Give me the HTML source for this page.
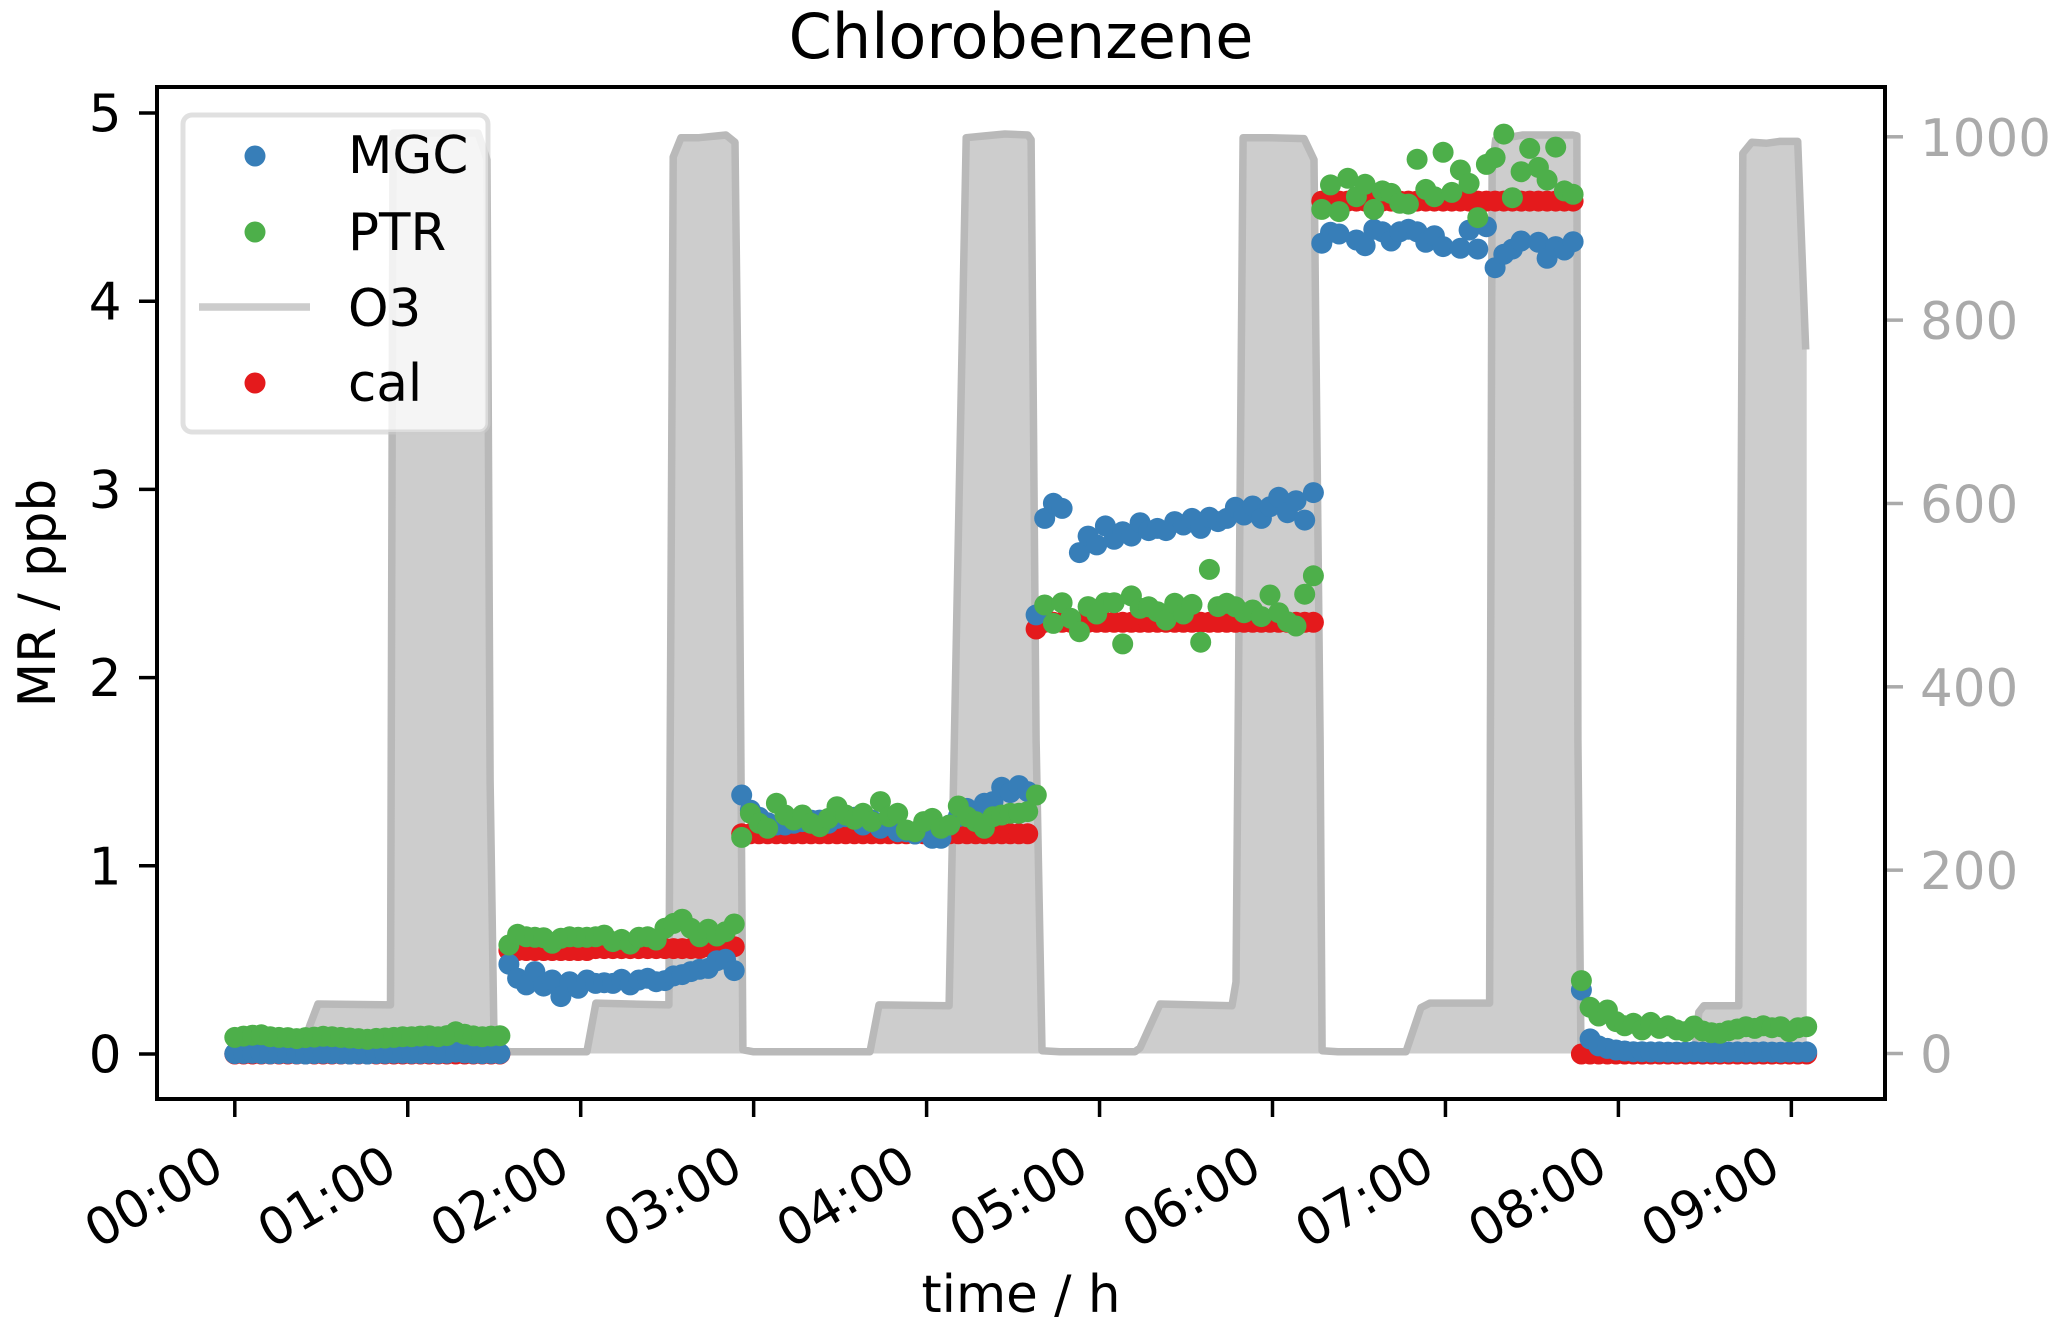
<!DOCTYPE html>
<html lang="en">
<head>
<meta charset="utf-8">
<title>Chlorobenzene</title>
<style>
html,body{margin:0;padding:0;background:#fff;width:2067px;height:1329px;overflow:hidden}
svg{display:block}
text{font-family:"DejaVu Sans",sans-serif}
</style>
</head>
<body>
<svg id="chart" xmlns="http://www.w3.org/2000/svg" width="2067" height="1329" viewBox="0 0 2067 1329">
  <rect x="0" y="0" width="2067" height="1329" fill="#fff"/>
  <g id="o3-layer"></g>
  <g id="cal-layer"></g>
  <g id="mgc-layer"></g>
  <g id="ptr-layer"></g>
  <g id="x-axis"></g>
  <g id="y-axis-left"></g>
  <g id="y-axis-right"></g>
  <rect x="157" y="87" width="1728" height="1012" fill="none" stroke="#000" stroke-width="4"/>
  <text x="1021" y="58" font-size="62" text-anchor="middle" fill="#000">Chlorobenzene</text>
  <text x="1021" y="1312" font-size="51.5" text-anchor="middle" fill="#000">time / h</text>
  <text transform="translate(55,593) rotate(-90)" font-size="51.5" text-anchor="middle" fill="#000">MR / ppb</text>
  <g>
    <rect x="183" y="115" width="305" height="317" rx="9" ry="9" fill="#fff" fill-opacity="0.8" stroke="#ccc" stroke-opacity="0.6" stroke-width="5"/>
    <g>
      <circle cx="255" cy="156" r="10.5" fill="#377eb8"/>
      <text x="348" y="173" font-size="51.5" fill="#000">MGC</text>
    </g>
    <g>
      <circle cx="255" cy="232" r="10.5" fill="#4daf4a"/>
      <text x="348" y="250" font-size="51.5" fill="#000">PTR</text>
    </g>
    <g>
      <line x1="199" y1="307" x2="310" y2="307" stroke="#ccc" stroke-width="7.5"/>
      <text x="348" y="326" font-size="51.5" fill="#000">O3</text>
    </g>
    <g>
      <circle cx="255" cy="383" r="10.5" fill="#e41a1c"/>
      <text x="348" y="401" font-size="51.5" fill="#000">cal</text>
    </g>
  </g>
</svg>
<script>
// ---- chart data ----
const xTickHours = [0,1,2,3,4,5,6,7,8,9];
const xTickLabels = ["00:00","01:00","02:00","03:00","04:00","05:00","06:00","07:00","08:00","09:00"];
const leftTicks = [0,1,2,3,4,5];
const rightTicks = [0,200,400,600,800,1000];

const segmentStarts = [0,1.585,2.931,4.633,6.285,7.786];
const segmentSteps = [0.0511,0.0501,0.0501,0.0501,0.0501,0.0501];

const mgcSeg1 = [.002,.003,.004,.002,.001,.002,.003,.001,0,.002,.003,.002,.001,0,.001,0,.002,.003,.004,.004,.003,.003,.004,.003,.004,.01,.006,.003,.002,.003,.002];
const mgcSeg2 = [.477,.402,.367,.438,.361,.393,.305,.384,.349,.393,.375,.379,.375,.397,.367,.393,.402,.384,.39,.415,.422,.438,.45,.455,.496,.503,.443];
const mgcSeg3 = [1.376,1.296,1.258,1.229,1.217,1.217,1.226,1.235,1.243,1.243,1.226,1.252,1.261,1.258,1.217,1.243,1.199,1.226,1.181,1.181,1.169,1.199,1.146,1.146,1.217,1.261,1.305,1.288,1.332,1.341,1.417,1.389,1.426,1.394];
const mgcSeg4 = [2.333,2.846,2.926,2.899,null,2.664,2.752,2.705,2.806,2.735,2.775,2.752,2.823,2.781,2.793,2.781,2.829,2.811,2.846,2.793,2.852,2.829,2.846,2.905,2.864,2.912,2.846,2.908,2.958,2.876,2.94,2.837,2.983];
const mgcSeg5 = [4.308,4.366,4.357,null,4.325,4.295,4.382,4.369,4.32,4.369,4.382,4.369,4.313,4.348,4.29,null,4.281,4.378,4.277,4.396,4.178,4.249,4.277,4.32,null,4.313,4.228,4.29,4.272,4.316];
const mgcSeg6 = [.34,.08,.043,.03,.021,.016,.012,.012,.011,.011,.01,.01,.01,.012,.01,.01,.009,.01,.011,.01,.01,.011,.01,.009,.01,.01,.011];

const ptrSeg1 = [.088,.095,.1,.102,.092,.088,.087,.082,.087,.09,.094,.092,.088,.085,.082,.078,.083,.085,.088,.092,.092,.095,.097,.092,.098,.118,.105,.096,.092,.095,.097];
const ptrSeg2 = [.579,.636,.623,.62,.618,.588,.615,.623,.62,.62,.623,.632,.597,.609,.584,.62,.623,.606,.668,.694,.716,.668,.623,.663,.627,.65,.691];
const ptrSeg3 = [1.151,1.279,1.226,1.199,1.332,1.27,1.243,1.27,1.226,1.208,1.252,1.314,1.27,1.247,1.279,1.235,1.341,1.261,1.279,1.19,1.181,1.235,1.252,1.199,1.217,1.318,1.261,1.235,1.199,1.261,1.27,1.279,1.279,1.288,1.376];
const ptrSeg4 = [null,2.386,2.288,2.398,2.315,2.244,2.377,2.338,2.398,2.398,2.179,2.434,2.368,2.376,2.35,2.306,2.395,2.338,2.389,2.188,2.575,2.377,2.395,2.376,2.345,2.359,2.324,2.439,2.345,2.297,2.274,2.443,2.541];
const ptrSeg5 = [4.488,4.618,4.476,4.653,4.555,4.621,4.488,4.586,4.573,4.52,4.516,4.754,4.594,4.555,4.791,4.578,4.697,4.626,4.444,4.727,4.763,4.888,4.55,4.688,4.812,4.711,4.644,4.819,4.586,4.568];
const ptrSeg6 = [.39,.248,.202,.234,.172,.15,.163,.128,.168,.136,.15,.128,.119,.149,.122,.113,.11,.124,.133,.145,.136,.15,.14,.145,.119,.14,.145];

const calSeg1 = [0,0,0,0,0,0,0,0,0,0,0,0,0,0,0,0,0,0,0,0,0,0,0,0,0,0,0,0,0,0,0];
const calSeg2 = [.55,.55,.55,.55,.55,.55,.55,.55,.55,.55,.56,.56,.56,.56,.56,.56,.56,.56,.56,.56,.56,.56,.56,.57,.57,.57,.57];
const calSeg3 = [1.17,1.17,1.17,1.17,1.17,1.17,1.17,1.17,1.17,1.17,1.17,1.17,1.17,1.17,1.17,1.17,1.17,1.17,1.17,1.17,1.17,1.17,1.17,1.17,1.17,1.17,1.17,1.17,1.17,1.17,1.17,1.17,1.17,1.17];
const calSeg4 = [2.258,2.294,2.294,2.294,2.294,2.294,2.294,2.294,2.294,2.294,2.294,2.294,2.294,2.294,2.294,2.294,2.294,2.294,2.294,2.294,2.294,2.294,2.294,2.294,2.294,2.294,2.294,2.294,2.294,2.294,2.294,2.294,2.294];
const calSeg5 = [4.532,4.532,4.532,4.532,4.532,4.532,4.532,4.532,4.532,4.532,4.532,4.532,4.532,4.532,4.532,4.532,4.532,4.532,4.532,4.532,4.532,4.532,4.532,4.532,4.532,4.532,4.532,4.532,4.532,4.532];
const calSeg6 = [0,0,0,0,0,0,0,0,0,0,0,0,0,0,0,0,0,0,0,0,0,0,0,0,0,0,0];

const mgcSegments = [mgcSeg1,mgcSeg2,mgcSeg3,mgcSeg4,mgcSeg5,mgcSeg6];
const ptrSegments = [ptrSeg1,ptrSeg2,ptrSeg3,ptrSeg4,ptrSeg5,ptrSeg6];
const calSegments = [calSeg1,calSeg2,calSeg3,calSeg4,calSeg5,calSeg6];

const o3Hours = [0,.377,.435,.481,.9,.915,1.406,1.458,1.476,1.499,1.516,1.597,2.036,2.088,2.51,2.535,2.58,2.684,2.84,2.892,2.915,2.938,2.996,3.673,3.725,4.13,4.229,4.338,4.453,4.586,4.604,4.633,4.667,4.771,5.205,5.234,5.35,5.766,5.789,5.83,5.98,6.182,6.24,6.275,6.287,6.379,6.772,6.858,6.91,7.255,7.27,7.29,7.448,7.737,7.76,7.766,7.783,7.806,8.442,8.465,8.494,8.696,8.719,8.771,8.858,8.933,9.037,9.083];
const o3Values = [0,0,31,54,53,1004,1004,975,298,9,3,2,2,55,53,978,999,999,1002,994,636,4,2,2,53,52,999,1001,1003,1002,997,342,3,2,2,6,54,52,78,999,999,998,975,342,3,2,2,50,55,55,960,997,1002,1002,1001,342,9,2,1,45,52,52,982,994,993,995,995,768];

// ---- axis functions ----
const NS = 'http://www.w3.org/2000/svg';
function xScale(hours){ return 234.8 + 172.95 * hours; }
function yLeft(value){ return 1054 - 188.2 * value; }
function yRight(value){ return 1053.5 - 0.9167 * value; }
function make(tag, attrs){
  const el = document.createElementNS(NS, tag);
  for (const key in attrs) el.setAttribute(key, attrs[key]);
  return el;
}

// ---- O3 area and line ----
const o3Layer = document.getElementById('o3-layer');
const o3Points = o3Hours.map(function(h, i){ return xScale(h).toFixed(1) + ',' + yRight(o3Values[i]).toFixed(1); });
const lastHour = o3Hours[o3Hours.length - 1];
const o3Area = make('polygon', {
  points: xScale(o3Hours[0]) + ',' + yRight(0) + ' ' + o3Points.join(' ') + ' ' + (xScale(lastHour) + 1) + ',' + yRight(o3Values[o3Values.length-1]) + ' ' + (xScale(lastHour) + 1) + ',' + yRight(0),
  fill: '#cdcdcd'
});


o3Layer.appendChild(o3Area);
const o3Line = make('polyline', {
  points: o3Points.join(' '),
  fill: 'none',
  stroke: '#b9b9b9',
  'stroke-width': 7.5,
  'stroke-linejoin': 'round'
});


o3Layer.appendChild(o3Line);

// ---- point series ----
function drawCalPoints(){
  const layer = document.getElementById('cal-layer');
  calSegments.forEach(function(values, s){
    values.forEach(function(v, i){
      if (v === null) return;
      const dot = make('circle', {cx: xScale(segmentStarts[s] + i * segmentSteps[s]).toFixed(1), cy: yLeft(v).toFixed(1), r: 10.5, fill: '#e41a1c'});
      
      
      layer.appendChild(dot);
    });
  });
}
function drawMgcPoints(){
  const layer = document.getElementById('mgc-layer');
  mgcSegments.forEach(function(values, s){
    values.forEach(function(v, i){
      if (v === null) return;
      const dot = make('circle', {cx: xScale(segmentStarts[s] + i * segmentSteps[s]).toFixed(1), cy: yLeft(v).toFixed(1), r: 10.5, fill: '#377eb8'});
      
      
      layer.appendChild(dot);
    });
  });
}
function drawPtrPoints(){
  const layer = document.getElementById('ptr-layer');
  ptrSegments.forEach(function(values, s){
    values.forEach(function(v, i){
      if (v === null) return;
      const dot = make('circle', {cx: xScale(segmentStarts[s] + i * segmentSteps[s]).toFixed(1), cy: yLeft(v).toFixed(1), r: 10.5, fill: '#4daf4a'});
      
      
      layer.appendChild(dot);
    });
  });
}
drawCalPoints();
drawMgcPoints();
drawPtrPoints();

// ---- axes ----
const xAxis = document.getElementById('x-axis');
xTickHours.forEach(function(h, i){
  const x = xScale(h);
  const tick = make('line', {x1: x, y1: 1099, x2: x, y2: 1117, stroke: '#000', 'stroke-width': 3.5});
  
  
  xAxis.appendChild(tick);
  const label = make('text', {transform: 'translate(' + (x - 8) + ',1175) rotate(-30)', 'font-size': 51.5, 'text-anchor': 'end', fill: '#000'});
  label.textContent = xTickLabels[i];
  
  
  xAxis.appendChild(label);
});

const leftAxis = document.getElementById('y-axis-left');
leftTicks.forEach(function(v){
  const y = yLeft(v);
  const tick = make('line', {x1: 139, y1: y, x2: 157, y2: y, stroke: '#000', 'stroke-width': 3.5});
  
  
  leftAxis.appendChild(tick);
  const label = make('text', {x: 121.5, y: y + 18.5, 'font-size': 51.5, 'text-anchor': 'end', fill: '#000'});
  label.textContent = String(v);
  
  
  leftAxis.appendChild(label);
});

const rightAxis = document.getElementById('y-axis-right');
rightTicks.forEach(function(v){
  const y = yRight(v);
  const tick = make('line', {x1: 1887, y1: y, x2: 1903, y2: y, stroke: '#aaa', 'stroke-width': 3.5});
  
  
  rightAxis.appendChild(tick);
  const label = make('text', {x: 1920, y: y + 19, 'font-size': 51.5, 'text-anchor': 'start', fill: '#aaa'});
  label.textContent = String(v);
  
  
  rightAxis.appendChild(label);
});
</script>
</body>
</html>
